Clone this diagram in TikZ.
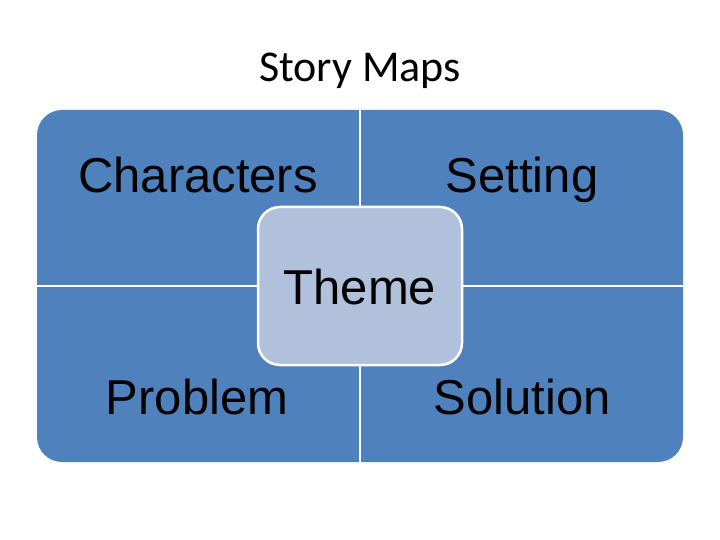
\documentclass[tikz,border=0pt]{standalone}
\usepackage{fontspec}
\setmainfont{Liberation Sans}
\newfontfamily\titlefont{Carlito}
\definecolor{quadblue}{RGB}{79,129,189}
\definecolor{themeblue}{RGB}{178,193,219}

\begin{document}
\begin{tikzpicture}[x=1pt,y=-1pt,
    board/.style={fill=quadblue,rounded corners=25pt,minimum width=646pt,minimum height=352pt,inner sep=0pt},
    divider/.style={white,line width=2pt},
    theme node/.style={fill=themeblue,draw=white,line width=2.5pt,rounded corners=22pt,minimum width=204pt,minimum height=158pt,inner sep=0pt},
    label node/.style={font=\fontsize{49}{49}\selectfont,anchor=base,inner sep=0pt}]

            \useasboundingbox (0,0) rectangle (720,540);

            \node[font=\titlefont\fontsize{44}{44}\selectfont,anchor=base,inner sep=0pt] (title) at (360,82) {Story Maps};

            \node[board] (map) at (360,286) {};
            \draw[divider] (map.north) -- (map.south);
            \draw[divider] (map.west) -- (map.east);

            \node[label node] (characters) at (198,193) {Characters};
            \node[label node] (setting) at (522,193) {Setting};
            \node[label node] (problem) at (197,414) {Problem};
            \node[label node] (solution) at (522,414) {Solution};

            \node[theme node] (themebox) at (360,286) {};
            \node[label node] (theme) at (360,304) {Theme};
        \end{tikzpicture}
\end{document}
